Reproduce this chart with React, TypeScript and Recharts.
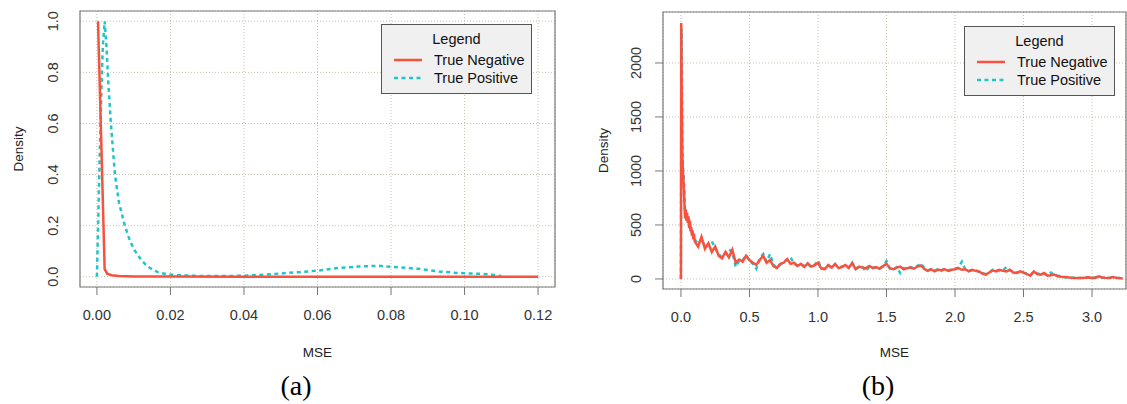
import { LineChart, Line, XAxis, YAxis, CartesianGrid, ReferenceArea, Label } from "recharts";

const NEG_COLOR = "#f8513e";
const POS_COLOR = "#22c5c7";
const FONT = "'Liberation Sans', Arial, Helvetica, sans-serif";
const SERIES = ["True Negative", "True Positive"];

// panel (a)
const leftXTicks = [0, 0.02, 0.04, 0.06, 0.08, 0.1, 0.12];
const leftYTicks = [0, 0.2, 0.4, 0.6, 0.8, 1.0];
const leftXDomain = [-0.0046, 0.1246];
const leftYDomain = [-0.04, 1.04];

const leftNegX = [0.0003, 0.0012, 0.0021, 0.0028, 0.004, 0.006, 0.01, 0.02, 0.04, 0.06, 0.08, 0.1, 0.12];
const leftNegY = [1.0, 0.52, 0.03, 0.012, 0.006, 0.003, 0.001, 0.0006, 0.0004, 0.0003, 0.0002, 0.0002, 0.0001];

const leftPosX = [0, 0.0004, 0.0008, 0.0012, 0.0016, 0.0021, 0.0026, 0.0031, 0.0038, 0.0049, 0.006, 0.0076, 0.009, 0.0104, 0.012, 0.0136, 0.0152, 0.0167, 0.019, 0.022, 0.026, 0.03, 0.035, 0.04, 0.045, 0.05, 0.055, 0.06, 0.0655, 0.071, 0.0765, 0.082, 0.0875, 0.093, 0.098, 0.1035, 0.107, 0.11];
const leftPosY = [0, 0.25, 0.5, 0.72, 0.9, 1.0, 0.9, 0.76, 0.6, 0.4, 0.29, 0.2, 0.14, 0.1, 0.067, 0.042, 0.028, 0.017, 0.01, 0.006, 0.004, 0.003, 0.003, 0.004, 0.008, 0.013, 0.018, 0.024, 0.034, 0.04, 0.043, 0.037, 0.031, 0.021, 0.015, 0.012, 0.009, 0.003];

// panel (b)
const rightXTicks = [0, 0.5, 1.0, 1.5, 2.0, 2.5, 3.0];
const rightYTicks = [0, 500, 1000, 1500, 2000];
const rightXDomain = [-0.131, 3.248];
const rightYDomain = [-93, 2472];

const rightX = [
  0, 0.002, 0.005, 0.01, 0.015, 0.02, 0.025, 0.03, 0.035, 0.04, 0.045, 0.05, 0.055, 0.06, 0.065, 0.07, 0.075, 0.08, 0.085, 0.09, 0.095, 0.1,
  0.125, 0.15, 0.175, 0.2, 0.225, 0.25, 0.275, 0.3, 0.325, 0.35, 0.375, 0.4, 0.425, 0.45, 0.475, 0.5,
  0.525, 0.55, 0.575, 0.6, 0.625, 0.65, 0.675, 0.7, 0.725, 0.75, 0.775, 0.8, 0.825, 0.85, 0.875, 0.9, 0.925, 0.95, 0.975, 1.0,
  1.025, 1.05, 1.075, 1.1, 1.125, 1.15, 1.175, 1.2, 1.225, 1.25, 1.275, 1.3, 1.325, 1.35, 1.375, 1.4, 1.425, 1.45, 1.475, 1.5,
  1.525, 1.55, 1.575, 1.6, 1.625, 1.65, 1.675, 1.7, 1.725, 1.75, 1.775, 1.8, 1.825, 1.85, 1.875, 1.9, 1.925, 1.95, 1.975, 2.0,
  2.025, 2.05, 2.075, 2.1, 2.125, 2.15, 2.175, 2.2, 2.225, 2.25, 2.275, 2.3, 2.325, 2.35, 2.375, 2.4, 2.425, 2.45, 2.475, 2.5,
  2.525, 2.55, 2.575, 2.6, 2.625, 2.65, 2.675, 2.7, 2.725, 2.75, 2.775, 2.8, 2.825, 2.85, 2.875, 2.9, 2.925, 2.95, 2.975, 3.0,
  3.025, 3.05, 3.075, 3.1, 3.125, 3.15, 3.175, 3.2, 3.225,
];
const rightNeg = [
  0, 2370, 1800, 1150, 990, 870, 720, 560, 640, 540, 610, 520, 580, 470, 540, 440, 480, 400, 450, 370, 420, 350,
  300, 390, 280, 330, 250, 300, 215, 190, 250, 200, 270, 150, 180, 160, 215, 175,
  150, 130, 175, 215, 150, 175, 120, 100, 140, 150, 185, 140, 150, 120, 140, 110, 145, 115, 125, 150,
  95, 90, 130, 105, 140, 100, 110, 130, 105, 145, 90, 115, 105, 100, 120, 100, 110, 95, 120, 140,
  100, 90, 105, 115, 90, 100, 105, 95, 115, 125, 95, 75, 90, 70, 85, 80, 90, 75, 85, 90,
  100, 85, 90, 70, 85, 75, 70, 50, 40, 60, 80, 70, 85, 75, 70, 85, 60, 55, 70, 60,
  45, 30, 70, 45, 40, 55, 30, 35, 40, 25, 20, 18, 15, 10, 8, 9, 8, 12, 15, 9,
  12, 25, 14, 10, 8, 18, 12, 9, 3,
];
const rightPos = [
  0, 1500, 2320, 1300, 1000, 960, 800, 600, 650, 560, 590, 540, 560, 500, 520, 460, 470, 420, 430, 390, 400, 370,
  320, 370, 300, 320, 350, 280, 230, 200, 240, 275, 250, 110, 170, 170, 220, 170,
  140, 95, 190, 230, 160, 230, 130, 105, 130, 160, 175, 200, 140, 125, 135, 120, 140, 110, 130, 170,
  100, 95, 125, 110, 135, 105, 115, 125, 100, 150, 95, 110, 110, 70, 115, 105, 105, 100, 115, 165,
  95, 85, 110, 55, 100, 95, 110, 100, 120, 145, 105, 80, 85, 75, 90, 75, 95, 80, 85, 95,
  105, 160, 90, 75, 80, 80, 65, 55, 45, 55, 85, 75, 80, 80, 110, 80, 65, 60, 65, 55,
  50, 35, 65, 50, 45, 50, 35, 60, 35, 30, 25, 15, 12, 12, 10, 8, 10, 15, 12, 10,
  15, 20, 12, 12, 10, 15, 10, 8, 5,
];

const leftNegData = leftNegX.map((x, i) => ({ x, y: leftNegY[i] }));
const leftPosData = leftPosX.map((x, i) => ({ x, y: leftPosY[i] }));
const rightData = rightX.map((x, i) => ({ x, neg: rightNeg[i], pos: rightPos[i] }));

function SideTick(props: any) {
  const { x, y, payload, digits } = props;
  return (
    <text x={x} y={y} transform={`rotate(-90, ${x}, ${y})`} textAnchor="middle" fill="#333" fontSize={14.5} fontFamily={FONT}>
      {Number(payload.value).toFixed(digits)}
    </text>
  );
}

function LegendBox({ left, top }: { left: number; top: number }) {
  const row = (i: number, y: number) => (
    <div key={i} style={{ position: "absolute", left: 0, top: y - 9, height: 18, width: "100%" }}>
      <svg width={45} height={18} style={{ position: "absolute", left: 0, top: 0 }}>
        <line
          x1={12}
          x2={40}
          y1={9}
          y2={9}
          stroke={i === 0 ? NEG_COLOR : POS_COLOR}
          strokeWidth={2.5}
          strokeDasharray={i === 0 ? undefined : "4 3.5"}
        />
      </svg>
      <span style={{ position: "absolute", left: 52, top: 0, lineHeight: "18px" }}>{SERIES[i]}</span>
    </div>
  );
  return (
    <div
      style={{
        position: "absolute",
        left,
        top,
        width: 151,
        height: 70,
        boxSizing: "border-box",
        border: "1px solid #555",
        background: "#f0f0f0",
        fontFamily: FONT,
        fontSize: 14.5,
        color: "#111",
      }}
    >
      <div style={{ position: "absolute", top: 5, width: "100%", textAlign: "center", lineHeight: "18px" }}>Legend</div>
      {row(0, 35)}
      {row(1, 53)}
    </div>
  );
}

const tickStyle = { fill: "#333", fontSize: 14.5, fontFamily: FONT };
const titleStyle = { fill: "#222", fontSize: 13.5, fontFamily: FONT };
const gridStroke = "#c9c1ae";

export default function App() {
  return (
    <div style={{ position: "absolute", left: 0, top: 0, width: 1127, height: 404, background: "#fff" }}>
      <div style={{ position: "absolute", left: 0, top: 0 }}>
        <LineChart width={560} height={404} margin={{ top: 11, right: 5, bottom: 0, left: 0 }}>
          <CartesianGrid stroke={gridStroke} strokeDasharray="1 2" />
          <XAxis
            dataKey="x"
            type="number"
            domain={leftXDomain}
            ticks={leftXTicks}
            allowDataOverflow
            interval={0}
            height={117}
            axisLine={false}
            tickLine={{ stroke: "#777" }}
            tickSize={8}
            tickMargin={15}
            tick={tickStyle}
            tickFormatter={(v: number) => v.toFixed(2)}
          >
            <Label value="MSE" position="insideBottom" offset={47} style={titleStyle} />
          </XAxis>
          <YAxis
            type="number"
            domain={leftYDomain}
            ticks={leftYTicks}
            allowDataOverflow
            interval={0}
            width={80}
            axisLine={false}
            tickLine={false}
            tickSize={0}
            tickMargin={22}
            tick={<SideTick digits={1} />}
          >
            <Label value="Density" angle={-90} position="insideLeft" offset={18} style={{ ...titleStyle, textAnchor: "middle" }} />
          </YAxis>
          <Line
            data={leftPosData}
            dataKey="y"
            name={SERIES[1]}
            type="linear"
            stroke={POS_COLOR}
            strokeWidth={2.5}
            strokeDasharray="4 3.5"
            dot={false}
            isAnimationActive={false}
          />
          <Line
            data={leftNegData}
            dataKey="y"
            name={SERIES[0]}
            type="linear"
            stroke={NEG_COLOR}
            strokeWidth={2.5}
            dot={false}
            isAnimationActive={false}
          />
          <ReferenceArea
            x1={leftXDomain[0]}
            x2={leftXDomain[1]}
            y1={leftYDomain[0]}
            y2={leftYDomain[1]}
            fill="none"
            stroke="#7a7a7a"
            strokeWidth={1.2}
            ifOverflow="visible"
          />
        </LineChart>
      </div>

      <div style={{ position: "absolute", left: 560, top: 0 }}>
        <LineChart width={567} height={404} data={rightData} margin={{ top: 12, right: 1, bottom: 0, left: 0 }}>
          <CartesianGrid stroke={gridStroke} strokeDasharray="1 2" />
          <XAxis
            dataKey="x"
            type="number"
            domain={rightXDomain}
            ticks={rightXTicks}
            allowDataOverflow
            interval={0}
            height={115}
            axisLine={false}
            tickLine={{ stroke: "#777" }}
            tickSize={8}
            tickMargin={15}
            tick={tickStyle}
            tickFormatter={(v: number) => v.toFixed(1)}
          >
            <Label value="MSE" position="insideBottom" offset={47} style={titleStyle} />
          </XAxis>
          <YAxis
            type="number"
            domain={rightYDomain}
            ticks={rightYTicks}
            allowDataOverflow
            interval={0}
            width={103}
            axisLine={false}
            tickLine={{ stroke: "#777" }}
            tickSize={8}
            tickMargin={14}
            tick={<SideTick digits={0} />}
          >
            <Label value="Density" angle={-90} position="insideLeft" offset={43} style={{ ...titleStyle, textAnchor: "middle" }} />
          </YAxis>
          <Line
            dataKey="pos"
            name={SERIES[1]}
            type="linear"
            stroke={POS_COLOR}
            strokeWidth={2.5}
            strokeDasharray="4 3.5"
            dot={false}
            isAnimationActive={false}
          />
          <Line
            dataKey="neg"
            name={SERIES[0]}
            type="linear"
            stroke={NEG_COLOR}
            strokeWidth={2.5}
            dot={false}
            isAnimationActive={false}
          />
          <ReferenceArea
            x1={rightXDomain[0]}
            x2={rightXDomain[1]}
            y1={rightYDomain[0]}
            y2={rightYDomain[1]}
            fill="none"
            stroke="#7a7a7a"
            strokeWidth={1.2}
            ifOverflow="visible"
          />
        </LineChart>
      </div>

      <LegendBox left={381} top={24} />
      <LegendBox left={964} top={26} />

      <div style={{ position: "absolute", left: 256, width: 80, top: 370, textAlign: "center", fontFamily: "'Liberation Serif', 'Times New Roman', serif", fontSize: 28, lineHeight: "32px", color: "#000" }}>
        (a)
      </div>
      <div style={{ position: "absolute", left: 838, width: 80, top: 370, textAlign: "center", fontFamily: "'Liberation Serif', 'Times New Roman', serif", fontSize: 28, lineHeight: "32px", color: "#000" }}>
        (b)
      </div>
    </div>
  );
}
